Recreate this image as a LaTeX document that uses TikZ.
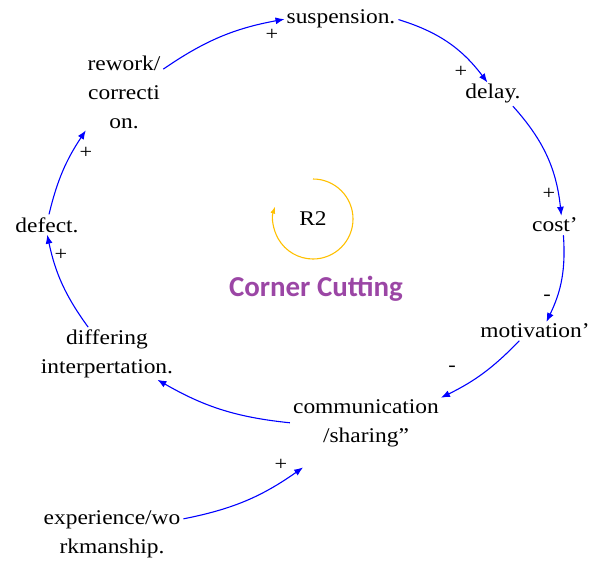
\documentclass[tikz,border=0pt]{standalone}
\usepackage{fontspec}
\setmainfont[FakeStretch=1.12]{Liberation Serif}
\newfontfamily\ccfont{Carlito}
\usetikzlibrary{arrows.meta}
\definecolor{linkblue}{RGB}{0,0,255}
\definecolor{loopgold}{RGB}{255,192,0}
\definecolor{ccpurple}{RGB}{155,70,165}
\tikzset{
  var/.style={align=center, inner sep=1pt, font=\fontsize{21}{29}\selectfont},
  link/.style={draw=linkblue, line width=1.1pt, -{Latex[length=9pt,width=7pt]}, shorten <=2pt, shorten >=1pt},
  sgn/.style={inner sep=0pt, font=\fontsize{20}{20}\selectfont},
}
\begin{document}
\begin{tikzpicture}[x=1bp,y=-1bp]
\useasboundingbox (0,0) rectangle (590,563);
% variables
\node[var] (susp) at (341,19) {suspension.};
\node[var] (delay) at (493,94) {delay.};
\node[var] (cost) at (555,225) {cost'};
\node[var] (mot) at (535,331) {motivation'};
\node[var] (comm) at (366,423) {communication\\/sharing\symbol{34}};
\node[var] (diff) at (107,354) {differing\\interpertation.};
\node[var] (defect) at (47,225) {defect.};
\node[var] (rework) at (124,92) {rework/\\correcti\\on.};
\node[var] (exp) at (112,534) {experience/wo\\rkmanship.};
% links
\draw[link] (rework.30) to[bend left=12] (susp.west);
\draw[link] (susp.east) to[bend left=18] (delay.115);
\draw[link] (delay.-30) to[bend left=18] (cost.52);
\draw[link] (cost.-45) to[bend left=15] (mot.37);
\draw[link] (mot.210) to[bend left=10] (comm.north east);
\draw[link] (comm.west) to[bend left=12] (diff.-27);
\draw[link] (diff.125) to[bend left=12] (defect.south);
\draw[link] (defect.80) to[bend left=10] (rework.south west);
\draw[link] (exp.12) to[bend right=12] ([shift={(12,19)}]comm.south west);
% polarity signs
\node[sgn] (s1) at (272,35) {+};
\node[sgn] (s2) at (461,72) {+};
\node[sgn] (s3) at (549,194) {+};
\node[sgn] (s4) at (547,298) {-};
\node[sgn] (s5) at (452,369) {-};
\node[sgn] (s6) at (61,255) {+};
\node[sgn] (s7) at (86,153) {+};
\node[sgn] (s8) at (281,465) {+};
% loop marker
\node[var] (r2) at (313,219) {R2};
\draw[draw=loopgold, line width=1.1pt, -{Latex[length=7pt,width=5pt]}] (313,179) arc[start angle=-90, end angle=198, radius=40];
\node[font=\ccfont\bfseries\fontsize{29}{29}\selectfont, text=ccpurple] (cc) at (316,289) {Corner Cutting};
\end{tikzpicture}
\end{document}
